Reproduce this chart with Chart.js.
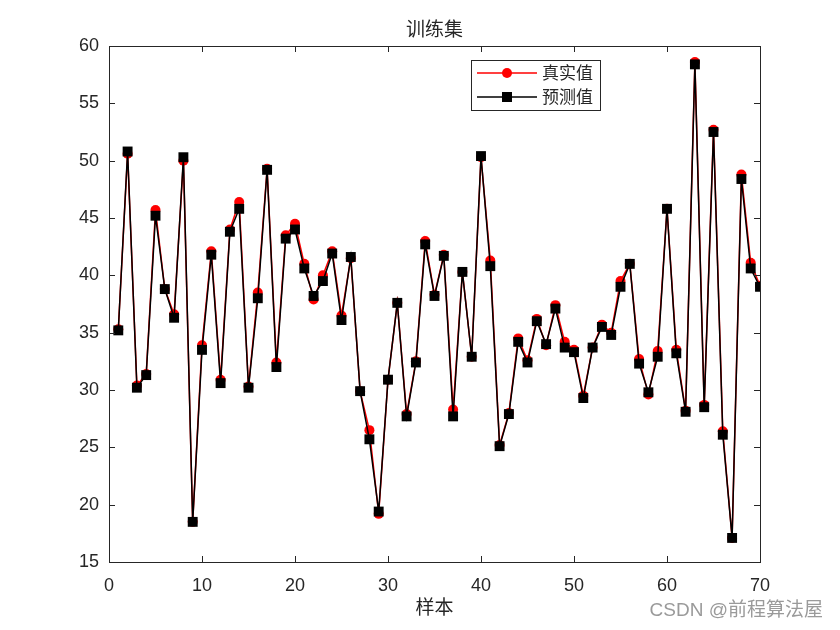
<!DOCTYPE html>
<html lang="zh">
<head>
    <meta charset="UTF-8">
    <title>训练集</title>
    <script src="https://cdn.jsdelivr.net/npm/chart.js"></script>
    <style>
        html, body { margin: 0; padding: 0; background: #fff; }
        #wrap { width: 840px; height: 630px; }
    </style>
</head>
<body>
    <div id="wrap"><canvas id="trainChart" width="840" height="630"></canvas></div>

    <script>
        const samples = Array.from({ length: 70 }, (_, i) => i + 1);
        const trueValues = [
            35.3, 50.6, 30.4, 31.4, 45.7, 38.8, 36.6, 50.0, 18.5, 33.9,
            42.1, 30.9, 44.0, 46.4, 30.3, 38.5, 49.3, 32.4, 43.5, 44.5,
            41.0, 37.9, 40.0, 42.1, 36.5, 41.5, 29.9, 26.5, 19.2, 30.9,
            37.6, 27.9, 32.5, 43.0, 38.3, 41.8, 28.3, 40.3, 32.9, 50.3,
            41.3, 25.2, 28.0, 34.5, 32.6, 36.2, 33.9, 37.4, 34.2, 33.5,
            29.5, 33.7, 35.7, 35.0, 39.5, 41.0, 32.7, 29.6, 33.4, 45.8,
            33.5, 28.2, 58.6, 28.7, 52.7, 26.4, 17.1, 48.8, 41.1, 39.1
        ];
        const predValues = [
            35.2, 50.8, 30.2, 31.3, 45.2, 38.8, 36.3, 50.3, 18.5, 33.5,
            41.8, 30.6, 43.8, 45.8, 30.2, 38.0, 49.2, 32.0, 43.2, 44.0,
            40.6, 38.2, 39.5, 41.9, 36.1, 41.6, 29.9, 25.7, 19.4, 30.9,
            37.6, 27.7, 32.4, 42.7, 38.2, 41.7, 27.7, 40.3, 32.9, 50.4,
            40.8, 25.1, 27.9, 34.2, 32.4, 36.0, 34.0, 37.1, 33.7, 33.3,
            29.3, 33.7, 35.5, 34.8, 39.0, 41.0, 32.3, 29.8, 32.9, 45.8,
            33.2, 28.1, 58.4, 28.5, 52.5, 26.1, 17.1, 48.4, 40.6, 39.0
        ];
        const xTicks = [0, 10, 20, 30, 40, 50, 60, 70];
        const yTicks = [15, 20, 25, 30, 35, 40, 45, 50, 55, 60];

        const fontFamily = '"Liberation Sans", "Noto Sans CJK SC", sans-serif';
        const axisColor = '#262626';

        // box, inner ticks, title, legend, watermark in MATLAB style
        const matlabFrame = {
            id: 'matlabFrame',
            afterDraw(chart) {
                const ctx = chart.ctx;
                const a = chart.chartArea;
                const xs = chart.scales.x, ys = chart.scales.y;
                ctx.save();
                ctx.strokeStyle = axisColor;
                ctx.lineWidth = 1;
                ctx.strokeRect(a.left + 0.5, a.top + 0.5, a.right - a.left, a.bottom - a.top);
                ctx.beginPath();
                xTicks.forEach(v => {
                    const px = Math.round(xs.getPixelForValue(v)) + 0.5;
                    ctx.moveTo(px, a.bottom); ctx.lineTo(px, a.bottom - 6);
                    ctx.moveTo(px, a.top); ctx.lineTo(px, a.top + 6);
                });
                yTicks.forEach(v => {
                    const py = Math.round(ys.getPixelForValue(v)) + 0.5;
                    ctx.moveTo(a.left, py); ctx.lineTo(a.left + 6, py);
                    ctx.moveTo(a.right, py); ctx.lineTo(a.right - 6, py);
                });
                ctx.stroke();

                // title + x label
                ctx.fillStyle = '#262626';
                ctx.textAlign = 'center';
                ctx.textBaseline = 'middle';
                ctx.font = '19px ' + fontFamily;
                ctx.fillText('训练集', (a.left + a.right) / 2, 31);
                ctx.fillText('样本', (a.left + a.right) / 2, 609);

                // legend
                const lx = 471, ly = 60, lw = 129, lh = 50;
                ctx.fillStyle = '#fff';
                ctx.fillRect(lx, ly, lw, lh);
                ctx.strokeStyle = '#262626';
                ctx.strokeRect(lx + 0.5, ly + 0.5, lw, lh);
                chart.data.datasets.forEach((ds, i) => {
                    const cy = ly + 13 + i * 24;
                    ctx.strokeStyle = ds.borderColor;
                    ctx.lineWidth = 1.5;
                    ctx.beginPath();
                    ctx.moveTo(lx + 6, cy); ctx.lineTo(lx + 66, cy);
                    ctx.stroke();
                    ctx.fillStyle = ds.pointBackgroundColor;
                    if (ds.pointStyle === 'rect') {
                        ctx.fillRect(lx + 31, cy - 5, 10, 10);
                    } else {
                        ctx.beginPath();
                        ctx.arc(lx + 36, cy, 5, 0, Math.PI * 2);
                        ctx.fill();
                    }
                    ctx.fillStyle = '#262626';
                    ctx.textAlign = 'left';
                    ctx.font = '17px ' + fontFamily;
                    ctx.fillText(ds.label, lx + 71, cy + 1);
                });

                // watermark
                ctx.fillStyle = '#9a9a9a';
                ctx.textAlign = 'right';
                ctx.font = '19px ' + fontFamily;
                ctx.fillText('CSDN @前程算法屋', 823, 611);
                ctx.restore();
            }
        };

        new Chart(document.getElementById('trainChart'), {
            type: 'line',
            data: {
                datasets: [
                    {
                        label: '真实值',
                        data: samples.map((s, i) => ({ x: s, y: trueValues[i] })),
                        borderColor: '#ff0000',
                        backgroundColor: '#ff0000',
                        pointBackgroundColor: '#ff0000',
                        pointBorderWidth: 0,
                        pointStyle: 'circle',
                        pointRadius: 5,
                        borderWidth: 1.5,
                        tension: 0,
                        order: 2
                    },
                    {
                        label: '预测值',
                        data: samples.map((s, i) => ({ x: s, y: predValues[i] })),
                        borderColor: '#000000',
                        backgroundColor: '#000000',
                        pointBackgroundColor: '#000000',
                        pointBorderWidth: 0,
                        pointStyle: 'rect',
                        pointRadius: 7,
                        borderWidth: 1.5,
                        tension: 0,
                        order: 1
                    }
                ]
            },
            options: {
                responsive: false,
                animation: false,
                layout: { padding: { top: 46, right: 80, left: 0, bottom: 0 } },
                plugins: {
                    legend: { display: false },
                    title: { display: false },
                    tooltip: { enabled: false }
                },
                scales: {
                    x: {
                        type: 'linear',
                        min: 0,
                        max: 70,
                        grid: { display: false },
                        border: { display: false },
                        afterBuildTicks: s => { s.ticks = xTicks.map(v => ({ value: v })); },
                        afterFit: s => { s.height = 68; },
                        ticks: { color: axisColor, padding: 5, font: { size: 18, family: fontFamily } }
                    },
                    y: {
                        min: 15,
                        max: 60,
                        grid: { display: false },
                        border: { display: false },
                        afterBuildTicks: s => { s.ticks = yTicks.map(v => ({ value: v })); },
                        afterFit: s => { s.width = 109; },
                        ticks: { color: axisColor, padding: 2, font: { size: 18, family: fontFamily } }
                    }
                }
            },
            plugins: [matlabFrame]
        });
    </script>
</body>
</html>
